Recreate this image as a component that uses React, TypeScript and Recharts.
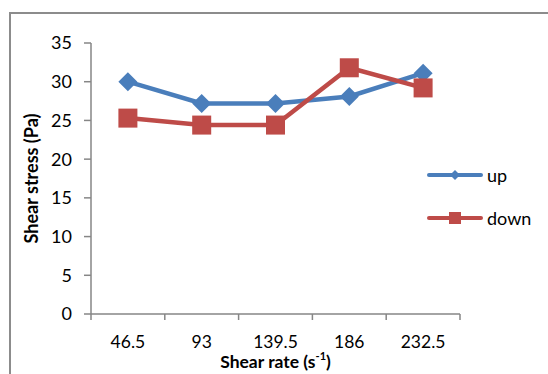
import { Legend, Line, LineChart, XAxis, YAxis } from 'recharts';

const CATEGORIES = ['46.5', '93', '139.5', '186', '232.5'];
const UP = [30, 27.2, 27.2, 28.1, 31.1];
const DOWN = [25.3, 24.4, 24.4, 31.8, 29.2];
const Y_TICKS = [0, 5, 10, 15, 20, 25, 30, 35];

const BLUE = '#4A7EBB';
const RED = '#BE4B48';
const AXIS = '#868686';
const TEXT = '#000';
const FONT = 'Lato, "Open Sans", sans-serif';

// category i sits in the middle of its band [i, i+1]
const data = CATEGORIES.map((c, i) => ({ pos: i + 0.5, cat: c, up: UP[i], down: DOWN[i] }));
const xTicks = [0, 0.5, 1, 1.5, 2, 2.5, 3, 3.5, 4, 4.5, 5];

const Diamond = (p: any) => {
  const { cx, cy } = p;
  if (cx == null || cy == null) return null;
  const r = 9.5;
  return <path d={`M${cx},${cy - r}L${cx + r},${cy}L${cx},${cy + r}L${cx - r},${cy}Z`} fill={BLUE} />;
};

const Square = (p: any) => {
  const { cx, cy } = p;
  if (cx == null || cy == null) return null;
  const r = 9.5;
  return <rect x={cx - r} y={cy - r} width={r * 2} height={r * 2} fill={RED} />;
};

const XTick = (p: any) => {
  const { x, y, payload } = p;
  const v = payload.value as number;
  const axisY = y - 5;
  if (Number.isInteger(v)) {
    return <line x1={x} x2={x} y1={axisY} y2={axisY + 6} stroke={AXIS} strokeWidth={1.5} />;
  }
  return (
    <text x={x} y={axisY + 34} textAnchor="middle" fill={TEXT} fontSize={17.5} fontFamily={FONT}>
      {CATEGORIES[Math.floor(v)]}
    </text>
  );
};

const XLabel = (p: any) => {
  const { viewBox } = p;
  const cx = viewBox.x + viewBox.width / 2;
  const y = viewBox.y + 54;
  return (
    <text x={cx} y={y} textAnchor="middle" fill={TEXT} fontSize={17.5} fontWeight="bold" fontFamily={FONT}>
      Shear rate (s
      <tspan fontSize={11} dy={-8}>-1</tspan>
      <tspan dy={8}>)</tspan>
    </text>
  );
};

const LegendBox = () => {
  const rows = [
    { name: 'up', color: BLUE, mark: 'diamond' },
    { name: 'down', color: RED, mark: 'square' },
  ];
  return (
    <div>
      {rows.map((r) => (
        <div key={r.name} style={{ display: 'flex', alignItems: 'center', height: 43 }}>
          <svg width={56} height={14} style={{ display: 'block' }}>
            <line x1={2} x2={54} y1={7} y2={7} stroke={r.color} strokeWidth={4} strokeLinecap="round" />
            {r.mark === 'diamond' ? (
              <path d="M28,2L33,7L28,12L23,7Z" fill={r.color} />
            ) : (
              <rect x={22} y={1} width={12} height={12} fill={r.color} />
            )}
          </svg>
          <span style={{ fontFamily: FONT, fontSize: 18, color: TEXT, marginLeft: 4, lineHeight: '20px' }}>{r.name}</span>
        </div>
      ))}
    </div>
  );
};

export default function App() {
  return (
    <div style={{ position: 'fixed', left: 0, top: 0, width: 548, height: 374, overflow: 'hidden', background: '#fff' }}>
      <div style={{ position: 'absolute', left: 9, top: 12, width: 620, height: 420, border: '2px solid #8c8c8c', boxSizing: 'border-box' }} />
      <div style={{ position: 'absolute', left: 0, top: 0 }}>
        <LineChart width={548} height={374} data={data} margin={{ top: 43, right: 88, bottom: 0, left: 0 }}>
          <XAxis
            dataKey="pos"
            type="number"
            domain={[0, 5]}
            ticks={xTicks}
            interval={0}
            tick={<XTick />}
            tickLine={false}
            tickSize={5}
            tickMargin={0}
            axisLine={{ stroke: AXIS, strokeWidth: 1.5 }}
            height={60}
            label={<XLabel />}
          />
          <YAxis
            domain={[0, 35]}
            ticks={Y_TICKS}
            interval={0}
            width={91}
            tick={{ fill: TEXT, fontSize: 18, fontFamily: FONT }}
            tickLine={{ stroke: AXIS, strokeWidth: 1.5 }}
            tickSize={7}
            tickMargin={12}
            axisLine={{ stroke: AXIS, strokeWidth: 1.5 }}
            label={{
              value: 'Shear stress (Pa)',
              angle: -90,
              position: 'insideLeft',
              offset: 32,
              style: { textAnchor: 'middle', fontWeight: 'bold', fontSize: 18, fontFamily: FONT, fill: TEXT },
            }}
          />
          <Legend
            content={<LegendBox />}
            layout="horizontal"
            align="center"
            verticalAlign="middle"
            wrapperStyle={{ left: 427, top: 153, width: 115 }}
          />
          <Line dataKey="up" stroke={BLUE} strokeWidth={4.5} dot={<Diamond />} isAnimationActive={false} />
          <Line dataKey="down" stroke={RED} strokeWidth={4.5} dot={<Square />} isAnimationActive={false} />
        </LineChart>
      </div>
    </div>
  );
}
